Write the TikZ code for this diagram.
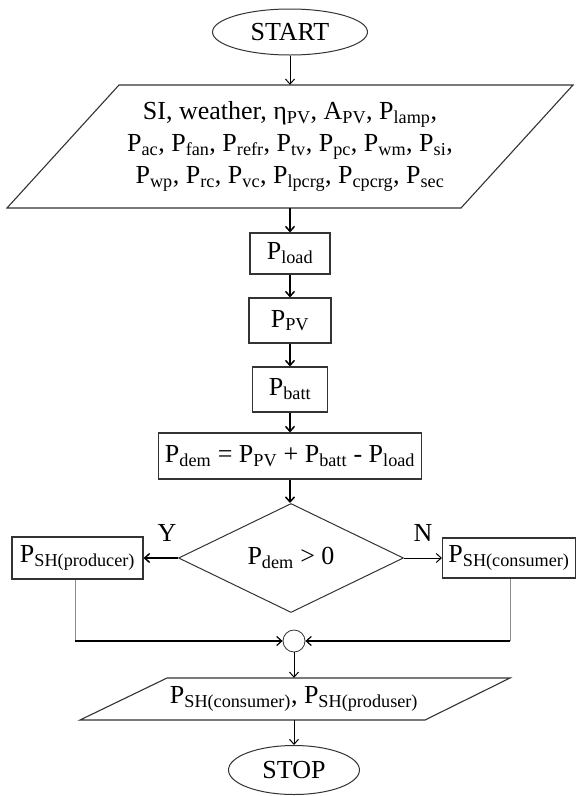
\documentclass[tikz,border=0pt]{standalone}
\usepackage{fontspec}
\setmainfont{Liberation Serif}
\usetikzlibrary{arrows.meta,shapes.geometric,calc}
\newcommand{\sbs}[1]{\textsubscript{#1}}
\begin{document}
\begin{tikzpicture}[x=1pt,y=-1pt,
  every node/.style={font=\fontsize{26}{32}\selectfont, inner sep=0pt},
  box/.style={draw=black!80, line width=1.1pt, rectangle},
  term/.style={draw=black!80, line width=1pt, ellipse},
  ar/.style={-{Straight Barb[length=5pt,width=9pt]}, line width=1.5pt},
  tar/.style={-{Straight Barb[length=5pt,width=9pt]}, line width=1pt},
  graylin/.style={draw=black!45, line width=0.8pt},
  para/.style={draw=black!80, line width=1.1pt}
]
\fill[white] (0,0) rectangle (577,796);
\useasboundingbox (0,0) rectangle (577,796);

% start
\node[term, minimum width=155pt, minimum height=46pt] (start) at (290,32) {START};

% input parallelogram
\node[minimum width=342pt, minimum height=123pt, align=center] (in1) at (290,146.5)
  {SI, weather, η\sbs{PV}, A\sbs{PV}, P\sbs{lamp},\\
   P\sbs{ac}, P\sbs{fan}, P\sbs{refr}, P\sbs{tv}, P\sbs{pc}, P\sbs{wm}, P\sbs{si},\\
   P\sbs{wp}, P\sbs{rc}, P\sbs{vc}, P\sbs{lpcrg}, P\sbs{cpcrg}, P\sbs{sec}};
\draw[para] (119,85) -- (573,85) -- (461,208) -- (7,208) -- cycle;

% process boxes
\node[box, minimum width=80pt, minimum height=41pt] (pload) at (290,253.5) {P\sbs{load}};
\node[box, minimum width=82pt, minimum height=45pt] (ppv) at (290,320.5) {P\sbs{PV}};
\node[box, minimum width=75pt, minimum height=45pt] (pbatt) at (290,389.5) {P\sbs{batt}};
\node[box, minimum width=263pt, minimum height=46pt] (pdem) at (290,456)
  {P\sbs{dem} = P\sbs{PV} + P\sbs{batt} - P\sbs{load}};

% decision
\node[draw=black!80, line width=1pt, diamond, aspect=2.06, minimum width=225pt, minimum height=109pt] (dec) at (291,558) {P\sbs{dem} > 0};
\node (ylab) at (167,533) {Y};
\node (nlab) at (423,533) {N};

% side boxes
\node[box, minimum width=131pt, minimum height=42pt] (lbox) at (77.5,558) {P\sbs{SH(producer)}};
\node[box, minimum width=133pt, minimum height=40pt] (rbox) at (509,558) {P\sbs{SH(consumer)}};

% merge circle
\node[draw=black!80, line width=0.8pt, circle, minimum size=22pt] (mrg) at (294,641) {};

% output parallelogram
\node[minimum width=260pt, minimum height=42pt] (outp) at (294,699)
  {P\sbs{SH(consumer)}, P\sbs{SH(produser)}};
\draw[para] (167,678) -- (510,678) -- (425,720) -- (80,720) -- cycle;

% stop
\node[term, minimum width=131pt, minimum height=49pt] (stop) at (294,770) {STOP};

% connectors
\draw[tar] (start.south) -- (start.south |- in1.north);
\draw[ar] (in1.south -| pload.north) -- (pload.north);
\draw[ar] (pload.south) -- (ppv.north);
\draw[ar] (ppv.south) -- (pbatt.north);
\draw[ar] (pbatt.south) -- (pdem.north);
\draw[ar] (pdem.south) -- (pdem.south |- dec.north);
\draw[ar] (dec.west) -- (lbox.east);
\draw[tar] (dec.east) -- (rbox.west);
\draw[graylin] ([xshift=-2.5pt]lbox.south) -- ([xshift=-2.5pt]lbox.south |- mrg.west);
\draw[graylin] ([xshift=1pt]rbox.south) -- ([xshift=1pt]rbox.south |- mrg.east);
\draw[tar, line width=1.2pt] ([xshift=-2.5pt]lbox.south |- mrg.west) -- (mrg.west);
\draw[tar, line width=1.2pt] ([xshift=1pt]rbox.south |- mrg.east) -- (mrg.east);
\draw[tar] (mrg.south) -- (mrg.south |- outp.north);
\draw[tar] (outp.south) -- (outp.south |- stop.north);
\end{tikzpicture}
\end{document}
